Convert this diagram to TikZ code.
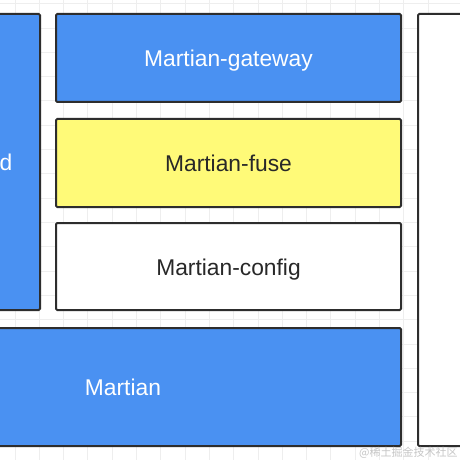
\documentclass[tikz,border=0pt]{standalone}
\usepackage{fontspec}
\setmainfont{Liberation Sans}
\newfontfamily\cjk{Noto Sans CJK SC}
\definecolor{boxblue}{RGB}{74,145,242}
\definecolor{boxyellow}{RGB}{255,250,120}
\definecolor{boxline}{RGB}{45,45,45}
\definecolor{textdark}{RGB}{40,40,40}
\definecolor{gridgray}{RGB}{238,238,238}
\begin{document}
\begin{tikzpicture}[
x=0.5pt,y=-0.5pt,
mybox/.style={
  draw=boxline,
  line width=1pt,
  rounded corners=0.6pt,
  inner sep=0pt,
  text height=8.5pt,
  text depth=0pt,
  font=\fontsize{11.4}{13}\selectfont
  },
bluebox/.style={mybox,fill=boxblue,text=white},
yellowbox/.style={mybox,fill=boxyellow,text=textdark},
whitebox/.style={mybox,fill=white,text=textdark},
boxsize/.style 2 args={minimum width=0.5*#1pt,minimum height=0.5*#2pt},
gridline/.style={gridgray,line width=0.5pt}
]
\clip (0,0) rectangle (460,460);
\fill[white] (0,0) rectangle (460,460);
\foreach \Value in {0,...,18}
  {\draw[gridline] ({15+24.3*(\Value-1)},0) -- ++(0,460);
   \draw[gridline] (0,{3.8+24.3*\Value}) -- ++(460,0);}
% left column and right column
\node[bluebox,boxsize={68}{296}] (cloud) at (6,162) {d};
\node[whitebox,boxsize={110}{432}] (side) at (473,230) {};
% middle stack
\node[bluebox,boxsize={345}{88}] (gateway) at (228.5,58) {Martian-gateway};
\node[yellowbox,boxsize={345}{88}] (fuse) at (228.5,163) {Martian-fuse};
\node[whitebox,boxsize={345}{87}] (config) at (228.5,266.5) {Martian-config};
\node[bluebox,boxsize={556}{118}] (martian) at (123,387) {Martian};
% watermark
\node[anchor=east,text=gray!45,font=\cjk\fontsize{5.5}{6}\selectfont,inner sep=0pt] (mark) at (458,453) {@稀土掘金技术社区};
\end{tikzpicture}
\end{document}
